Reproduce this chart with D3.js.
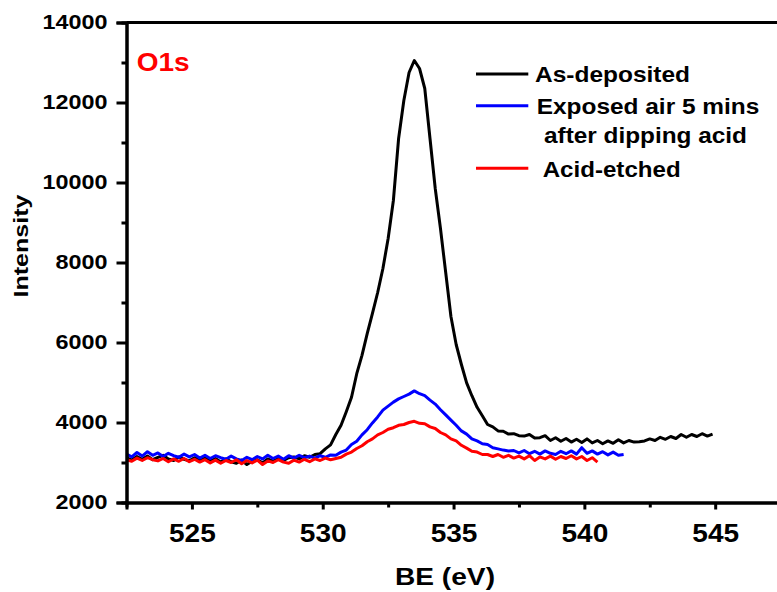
<!DOCTYPE html>
<html>
<head>
<meta charset="utf-8">
<script src="https://cdn.jsdelivr.net/npm/d3@7"></script>
<style>
  html, body { margin: 0; padding: 0; background: #fff; }
  svg { display: block; font-family: "Liberation Sans", Arial, sans-serif; font-weight: bold; }
</style>
</head>
<body>
<svg id="chart" width="777" height="592"></svg>
<script>
// O1s XPS spectra: intensity vs binding energy, sampled every 0.2 eV
const energyStep = 0.2;
const energyStart = 522.5;

const seriesNames = ["As-deposited", "Exposed air 5 mins", "Acid-etched"];
const seriesColors = ["#000000", "#0000ff", "#ff0000"];

const asDeposited = [
  3120, 3060, 3150, 3080, 3160, 3070, 3130, 3180, 3090, 3050,
  3140, 3080, 3040, 3120, 3060, 3130, 3030, 3100, 3010, 3090,
  3020, 2980, 3060, 2950, 3030, 3070, 2990, 3090, 3030, 3100,
  3050, 3120, 3140, 3090, 3170, 3130, 3200, 3220, 3340, 3440,
  3700, 3930, 4270, 4630, 5220, 5680, 6220, 6730, 7250, 7850,
  8600, 9550, 11100, 12050, 12750, 13050, 12850, 12350, 11100, 9850,
  8850, 7750, 6650, 5950, 5450, 4990, 4670, 4380, 4170, 3950,
  3890, 3790, 3780, 3710, 3720, 3670, 3660, 3700, 3610, 3620,
  3670, 3550, 3620, 3530, 3600, 3510, 3580, 3500, 3590, 3490,
  3550, 3470, 3540, 3480, 3570, 3490, 3550, 3510, 3520, 3540,
  3590, 3550, 3630, 3580, 3650, 3600, 3700, 3630, 3700, 3650,
  3720, 3660, 3710
];

const exposedAir = [
  3210, 3140, 3250, 3160, 3270, 3180, 3240, 3150, 3230, 3170,
  3130, 3210, 3140, 3200, 3110, 3180, 3100, 3170, 3120, 3080,
  3160, 3090, 3050, 3130, 3070, 3150, 3090, 3180, 3100, 3160,
  3080, 3170, 3110, 3180, 3120, 3160, 3110, 3170, 3130, 3190,
  3180, 3260, 3310, 3450, 3530, 3690, 3820, 3990, 4140, 4310,
  4410, 4510, 4590, 4650, 4710, 4790, 4720, 4670, 4560, 4460,
  4320, 4190, 4060, 3930, 3790, 3710, 3590, 3540, 3470, 3450,
  3370, 3340, 3310, 3290, 3300, 3240, 3300, 3220, 3280, 3210,
  3290, 3230, 3200, 3280, 3220, 3290, 3210, 3370, 3230, 3290,
  3210, 3270, 3190, 3260, 3180, 3200
];

const acidEtched = [
  3070, 3030, 3110, 3050, 3120, 3070, 3040, 3100, 3020, 3090,
  3030, 3100, 3020, 3080, 3010, 3070, 2990, 3060, 2980, 3050,
  3000, 3070, 2970, 3050, 2990, 3060, 2950, 3040, 3000, 3070,
  3010, 2980, 3060, 3010, 3080, 3020, 3090, 3050, 3110, 3070,
  3100, 3130, 3210, 3260, 3350, 3420, 3520, 3590, 3690, 3750,
  3830, 3870, 3930, 3950, 4000, 4030, 3980, 3970, 3890, 3850,
  3750, 3690, 3590, 3540, 3430, 3360, 3280, 3260, 3200, 3200,
  3150, 3200, 3130, 3180, 3110, 3160, 3090, 3170, 3050, 3140,
  3090, 3160, 3080, 3150, 3100, 3170, 3090, 3150, 3050, 3120,
  3010
];

const yTicks = [2000, 4000, 6000, 8000, 10000, 12000, 14000];
const yMinorTicks = [3000, 5000, 7000, 9000, 11000, 13000];
const xTicks = [525, 530, 535, 540, 545];
const xMinorTicks = [527.5, 532.5, 537.5, 542.5, 547.5];

const svg = d3.select("#chart");

const x = d3.scaleLinear().domain([522.5, 547.5]).range([126.5, 780.6]);
const y = d3.scaleLinear().domain([2000, 14000]).range([502.5, 22.5]);

// spectra
const allSeries = [asDeposited, exposedAir, acidEtched];
const line = d3.line()
  .x((d, i) => x(energyStart + i * energyStep))
  .y(d => y(d));

svg.append("g")
  .selectAll("path")
  .data(allSeries)
  .join("path")
  .attr("d", d => line(d))
  .attr("fill", "none")
  .attr("stroke", (d, i) => seriesColors[i])
  .attr("stroke-width", 3)
  .attr("stroke-linejoin", "round");

// axes
const yAxis = svg.append("g")
  .attr("transform", `translate(${x(522.5)},0)`)
  .call(d3.axisLeft(y).tickValues(yTicks).tickSize(10).tickPadding(9).tickFormat(d3.format("d")));
svg.append("g")
  .attr("transform", `translate(${x(522.5)},0)`)
  .call(d3.axisLeft(y).tickValues(yMinorTicks).tickSize(5).tickFormat(""));

const xAxis = svg.append("g")
  .attr("transform", `translate(0,${y(2000)})`)
  .call(d3.axisBottom(x).tickValues(xTicks).tickSize(7).tickPadding(14).tickFormat(d3.format("d")));
svg.append("g")
  .attr("transform", `translate(0,${y(2000)})`)
  .call(d3.axisBottom(x).tickValues(xMinorTicks).tickSize(5).tickFormat(""));

svg.selectAll(".domain").attr("stroke", "#000").attr("stroke-width", 3);
svg.selectAll(".tick line").attr("stroke", "#000").attr("stroke-width", 3);

yAxis.selectAll("text")
  .attr("fill", "#000")
  .style("font-size", "19.5px")
  .style("font-weight", "bold")
  .attr("textLength", d => String(d).length * 13)
  .attr("lengthAdjust", "spacingAndGlyphs");

xAxis.selectAll("text")
  .attr("fill", "#000")
  .style("font-size", "25.5px")
  .style("font-weight", "bold")
  .attr("textLength", d => String(d).length * 15.6)
  .attr("lengthAdjust", "spacingAndGlyphs");

// top frame line
svg.append("line")
  .attr("x1", x(522.5)).attr("x2", 777)
  .attr("y1", y(14000)).attr("y2", y(14000))
  .attr("stroke", "#000").attr("stroke-width", 3);

// axis titles
svg.append("text")
  .attr("x", 445).attr("y", 585)
  .attr("text-anchor", "middle")
  .style("font-size", "23.5px")
  .attr("textLength", 100).attr("lengthAdjust", "spacingAndGlyphs")
  .text("BE (eV)");

svg.append("text")
  .attr("transform", "translate(28,246) rotate(-90)")
  .attr("text-anchor", "middle")
  .style("font-size", "19.5px")
  .attr("textLength", 103).attr("lengthAdjust", "spacingAndGlyphs")
  .text("Intensity");

// panel label
svg.append("text")
  .attr("x", 136.7).attr("y", 70.7)
  .attr("fill", "#ff0000")
  .style("font-size", "26px")
  .attr("textLength", 53).attr("lengthAdjust", "spacingAndGlyphs")
  .text("O1s");

// legend
const legendRows = [
  { name: seriesNames[0], color: seriesColors[0], lineY: 74, lines: [{ t: "As-deposited", x: 535, y: 81.7, w: 155 }] },
  { name: seriesNames[1], color: seriesColors[1], lineY: 105.7, lines: [
      { t: "Exposed air 5 mins", x: 536.7, y: 113.5, w: 222.6 },
      { t: "after dipping acid", x: 544, y: 143, w: 203 }] },
  { name: seriesNames[2], color: seriesColors[2], lineY: 168.3, lines: [{ t: "Acid-etched", x: 542.7, y: 176.5, w: 138 }] }
];

const legend = svg.append("g");
legendRows.forEach(r => {
  legend.append("line")
    .attr("x1", 476).attr("x2", 528.3)
    .attr("y1", r.lineY).attr("y2", r.lineY)
    .attr("stroke", r.color).attr("stroke-width", 3);
  r.lines.forEach(l => {
    legend.append("text")
      .attr("x", l.x).attr("y", l.y)
      .style("font-size", "21.5px")
      .attr("textLength", l.w).attr("lengthAdjust", "spacingAndGlyphs")
      .text(l.t);
  });
});
</script>
</body>
</html>
